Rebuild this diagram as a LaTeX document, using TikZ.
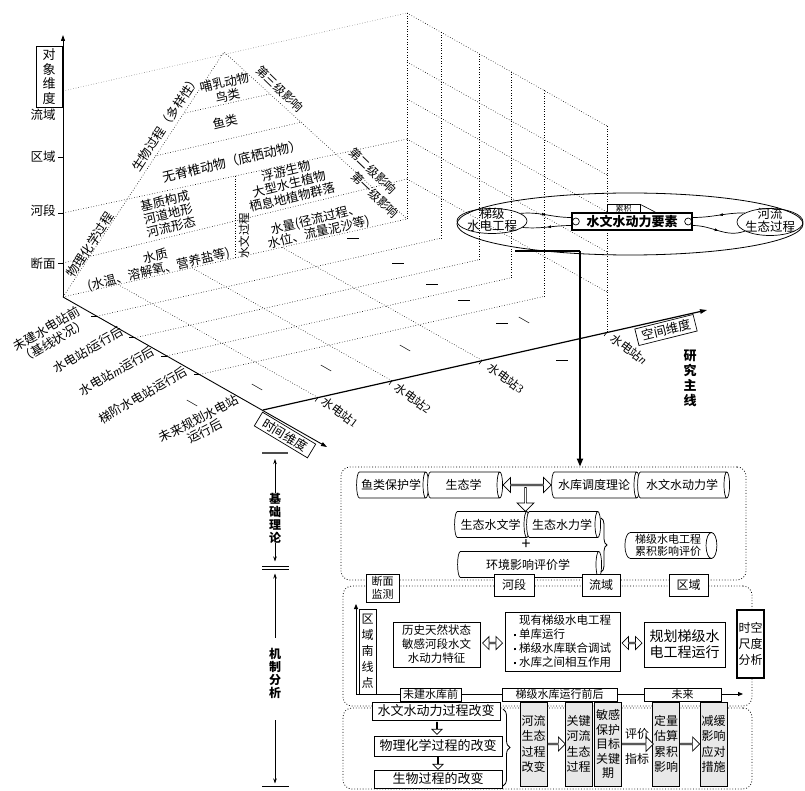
\documentclass[tikz,border=0pt]{standalone}
\usepackage{fontspec}
\setmainfont{Noto Sans CJK SC}
\newfontfamily\latin{Liberation Serif}
\usepackage{tikz}
\usetikzlibrary{arrows.meta,positioning,shapes.geometric,shapes.arrows,decorations.pathreplacing,decorations.markings,calc}
\newcommand{\fsz}[2]{\fontsize{#1}{#2}\selectfont}
\newcommand{\bul}{\raisebox{2.5pt}{\rule{2pt}{2pt}}\hspace{3pt}}

\begin{document}
\begin{tikzpicture}[x=1pt, y=-1pt,
  grid/.style={dotted, line width=0.6pt},
  axis/.style={line width=0.9pt, -{Triangle[length=6pt,width=4pt]}},
  arr/.style={line width=0.8pt, -{Stealth[length=5pt,width=3.5pt]}},
  lbl/.style={inner sep=0pt, align=center, font=\fsz{12.5}{13.5}},
  pyr/.style={inner sep=0pt, align=center, font=\fsz{12.5}{13.5}, rotate=13.5},
  tlbl/.style={inner sep=0pt, align=center, font=\fsz{12.5}{14}, rotate=30},
  slbl/.style={inner sep=0pt, font=\fsz{12}{12}, rotate=-37},
  dimbox/.style={draw, line width=0.7pt, inner sep=1pt, fill=white, font=\fsz{12.5}{13}},
  cyl/.style={cylinder, draw, line width=0.7pt, aspect=0.5, minimum width=26pt, inner sep=0pt, fill=white, font=\fsz{12}{12.5}},
  box2/.style={draw, line width=0.7pt, fill=white, inner sep=0pt, align=center, font=\fsz{11.5}{14}},
  tagbox/.style={draw, line width=0.7pt, fill=white, inner sep=0pt, minimum height=13pt, font=\fsz{11}{11}},
  graybox/.style={draw, line width=0.9pt, fill=gray!18, minimum width=27pt, minimum height=84pt, inner sep=0pt, align=center, font=\fsz{12}{15.5}},
  chbox/.style={draw, line width=0.8pt, fill=white, minimum width=128pt, inner sep=0pt, font=\fsz{13}{13}},
  hollow/.style={single arrow, draw, fill=white, line width=0.7pt, inner sep=0pt, single arrow head extend=3pt},
  hollowdbl/.style={double arrow, draw, fill=white, line width=0.7pt, inner sep=0pt, double arrow head extend=3pt},
  zone/.style={draw, dotted, line width=0.8pt, rounded corners=9pt, minimum width=409pt},
  midarr/.style={postaction={decorate}, decoration={markings, mark=at position 0.5 with {\arrow{Latex[length=4pt,width=3pt]}}}}
]
\useasboundingbox (0,0) rectangle (805,791);

% --- three-dimensional frame ---
\coordinate (O) at (63,297);
\coordinate (W) at (407,219);
\coordinate (S0) at (263,410);
\coordinate (A) at (224,52);

% floor grid
\draw[grid] (O) -- (W);
\draw[grid] (97,316.2) -- (441,238.2);
\draw[grid] (135,337.7) -- (479,259.7);
\draw[grid] (167,355.8) -- (511,277.8);
\draw[grid] (200,374.4) -- (544,296.4);
\draw[grid] (118,284.5) -- (318,397.5);
\draw[grid] (192,267.8) -- (392,380.8);
\draw[grid] (282,247.3) -- (482,360.3);

% wall at the last station
\foreach \x/\yb/\yt in {407/219/13, 441/238.2/32.2, 479/259.7/53.7, 511/277.8/71.8, 544/296.4/90.4, 607/332/126}
  \draw[grid] (\x,\yb) -- (\x,\yt);
\foreach \h in {40,80,120,157,206}
  \draw[grid] (407,219-\h) -- (607,332-\h);

% back wall and pyramid
\draw[grid, gray] (63,91) -- (407,13);
\draw[grid] (63,213) -- (407,139);
\draw[grid] (63,263) -- (407,179);
\draw[grid] (O) -- (A) -- (W);
\draw[grid] (185,113) -- (270,94);
\draw[grid] (155,156) -- (302,122);
\draw[grid] (235,176) -- (235,258);

\node[pyr] (mammal) at (226,89) {哺乳动物\\鸟类};
\node[pyr] (fish) at (225,122) {鱼类};
\node[pyr, font=\fsz{13}{13.5}] (benthos) at (232,161) {无脊椎动物（底栖动物）};
\node[pyr] (substrate) at (168,214) {基质构成\\河道地形\\河流形态};
\node[pyr] (plankton) at (289,184) {浮游生物\\大型水生植物\\栖息地植物群落};
\node[pyr] (quantity) at (317,226) {水量(径流过程、\\水位、流量泥沙等)};
\node[pyr] (quality) at (157,263) {水质\\(水温、溶解氧、营养盐等)};
\node[lbl, rotate=90, font=\fsz{11.5}{12}] (hydroproc) at (244,236) {水文过程};
\node[lbl, rotate=56.7] (bioproc) at (166,123) {生物过程（多样性）};
\node[lbl, rotate=56.7] (phyproc) at (90,245) {物理化学过程};
\node[lbl, rotate=-44, font=\fsz{12}{12}] (lv3) at (280,89) {第三级影响};
\node[lbl, rotate=-44, font=\fsz{12}{12}] (lv2) at (373,171) {第二级影响};
\node[lbl, rotate=-44, font=\fsz{12}{12}] (lv1) at (375,195) {第一级影响};

% marks of omission on the floor
\foreach \x/\y/\a in {353/238/0, 398/263/0, 432/284/0, 464/300/0, 502/323/0, 524/320/-30, 562/360/0, 405/348/-30, 326/368/-30, 257/387/-30, 192/403/-30}
  \draw[line width=0.5pt, rotate around={\a:(\x,\y)}] (\x-6,\y) -- (\x+6,\y);

% axes
\draw[axis] (O) -- (63,35);
\draw[axis] (O) -- (327,447);
\draw[line width=1.2pt, -{Triangle[length=7pt,width=4.5pt]}] (S0) -- (707,310);

\foreach \y in {157,213,263}
  \draw[line width=0.7pt] (58,\y) -- (63,\y);
\node[lbl] (basin) at (43,115) {流域};
\node[lbl] (region) at (43,157) {区域};
\node[lbl] (reach) at (43,211) {河段};
\node[lbl] (section) at (43,264) {断面};
\node[dimbox, minimum width=26pt, minimum height=61pt, align=center, font=\fsz{13}{14.5}] (objdim) at (49,76.5) {对\\象\\维\\度};

\foreach \x/\y in {97/316.2, 135/337.7, 167/355.8, 200/374.4}
  \draw[line width=0.6pt] (\x-6,\y) -- (\x,\y);
\node[tlbl] (t1) at (50,335) {未建水电站前\\（基线状况）};
\node[tlbl] (t2) at (88,350) {水电站{\latin\itshape l}运行后};
\node[tlbl] (t3) at (117,371) {水电站{\latin\itshape m}运行后};
\node[tlbl] (t4) at (143,395) {梯阶水电站运行后};
\node[tlbl, rotate=-3] (t5) at (202,425) {未来规划水电站\\运行后};
\node[dimbox, rotate=-31, minimum width=62pt, minimum height=16pt] (timedim) at (285,435) {时间维度};

\foreach \x/\y in {318/397.5, 392/380.8, 482/360.3, 607/332}
  \draw[line width=0.6pt] (\x,\y) -- ++(-3,4);
\node[slbl] (st1) at (340,412) {水电站{\latin 1}};
\node[slbl] (st2) at (413,398) {水电站{\latin 2}};
\node[slbl] (st3) at (506,378) {水电站{\latin 3}};
\node[slbl] (stn) at (629,349) {水电站{\latin\itshape n}};
\node[dimbox, rotate=14, minimum width=60pt, minimum height=17pt] (spacedim) at (666,330) {空间维度};

% --- interaction loop ---
\node[ellipse, draw, line width=0.8pt, minimum width=346pt, minimum height=62pt, inner sep=0pt] (loop) at (630,224) {};
\node[ellipse, draw, line width=0.7pt, minimum width=70pt, minimum height=25pt, inner sep=0pt] (casc) at (492,221) {};
\node[lbl, font=\fsz{12.5}{12.5}] (cascT) at (492,220) {梯级\\水电工程};
\node[ellipse, draw, line width=0.7pt, minimum width=66pt, minimum height=27pt, inner sep=0pt] (river) at (770,222) {};
\node[lbl, font=\fsz{12.5}{13}] (riverT) at (770,220) {河流\\生态过程};
\node[draw, line width=1.3pt, fill=white, minimum width=120pt, minimum height=17pt, inner sep=0pt, font=\bfseries\fsz{13}{13}] (hydro) at (632,221.5) {水文水动力要素};
\draw[line width=0.7pt] ([xshift=4.5pt]hydro.west) circle (3.5pt);
\draw[line width=0.7pt] ([xshift=-4.5pt]hydro.east) circle (3.5pt);
\node[draw, line width=0.6pt, fill=white, inner sep=0pt, minimum width=33pt, minimum height=8pt, font=\fsz{8}{8}, anchor=south] (accum) at (623.5,213) {累积};
\draw[line width=0.6pt] (accum.north east) -- (656,212.5) -- (accum.south east);

\draw[line width=0.7pt, midarr] (casc.15) to[out=5, in=180] ([yshift=4pt]hydro.west);
\draw[line width=0.7pt, midarr] ([yshift=-4pt]hydro.west) to[out=180, in=-5] (casc.-12);
\draw[line width=0.7pt, midarr] (river.160) to[out=180, in=0] ([yshift=4pt]hydro.east);
\draw[line width=0.7pt, midarr] ([yshift=-4pt]hydro.east) to[out=0, in=200] (river.200);

% --- lower panels ---
\node[zone, minimum width=405pt, minimum height=113pt] (basebox) at (543.5,523.5) {};
\node[zone, minimum height=120pt] (mechbox) at (547.5,646) {};
\node[zone, minimum height=81pt] (chainbox) at (547.5,748.5) {};

% research main line
\coordinate (barL) at (515,251);
\coordinate (barR) at (580,251);
\draw[line width=1.8pt] (barL) -- (barR);
\draw[line width=1.8pt, -{Triangle[length=8pt,width=6pt]}] (barR) -- (barR |- basebox.north);
\node[inner sep=0pt, align=center, font=\bfseries\fsz{13}{15}] (mainline) at (690,378) {研\\究\\主\\线};

% left phase column
\coordinate (barA) at (275,453);
\draw[line width=2.5pt, gray!60!black] (262,453) -- (288,453);
\node[inner sep=0pt, align=center, font=\bfseries\fsz{12}{13}] (theory) at (275,518) {基\\础\\理\\论};
\draw[arr] (theory.north) -- ([yshift=-6pt]barA);
\coordinate (barB) at (275,567.5);
\draw[line width=0.6pt] (262,566) -- (289,566) (262,569.5) -- (289,569.5);
\draw[arr] (theory.south) -- ([yshift=6pt]barB);
\node[inner sep=0pt, align=center, font=\bfseries\fsz{12}{13}] (mech) at (275,673) {机\\制\\分\\析};
\draw[arr] ([yshift=10pt]mech.north) -- ([yshift=-6pt]barB);
\coordinate (barC) at (275,786.5);
\draw[line width=1pt] (262,786.5) -- (289,786.5);
\draw[arr] ([yshift=-22pt]mech.south) -- ([yshift=3pt]barC);

% basic theory cylinders
\node[cyl, minimum height=72pt] (fishcons) at (391,485) {鱼类保护学};
\node[cyl, minimum height=75pt] (ecology) at (463.5,485) {生态学};
\node[cyl, minimum height=88pt] (dispatch) at (594,485) {水库调度理论};
\node[cyl, minimum height=92pt] (hydrodyn) at (682,485) {水文水动力学};
\node[hollow, shape border rotate=270, minimum height=24pt, minimum width=17pt] (down1) at (525.5,499) {};
\node[hollowdbl, minimum height=48pt, minimum width=15pt] (bi1) at ($(ecology.east)!0.5!(dispatch.west)$) {};
\node[cyl, minimum height=75pt] (ecohydro) at (490.5,524.5) {生态水文学};
\node[cyl, minimum height=74pt] (ecohydra) at (562,524.5) {生态水力学};
\node[cyl, minimum height=144pt] (eia) at (528,564.5) {环境影响评价学};
\node[inner sep=0pt, font=\fsz{16}{16}] (plus) at (526,545) {+};
\draw[line width=0.8pt, decorate, decoration={brace, amplitude=6pt}] (601,518) -- (601,572);
\node[cyl, minimum height=92pt, font=\fsz{11}{11.5}, align=center] (cumeval) at (668,545.5) {梯级水电工程\\累积影响评价};

% mechanism analysis
\node[draw, line width=0.7pt, fill=white, minimum width=33pt, minimum height=28pt, inner sep=0pt, align=center, font=\fsz{11}{12.5}] (hdsec) at (382.5,588) {断面\\监测};
\node[tagbox, minimum width=40pt, minimum height=22pt, font=\fsz{12}{12}] (hdreach) at (514,585) {河段};
\node[tagbox, minimum width=38pt, minimum height=22pt, font=\fsz{12}{12}] (hdbasin) at (601,585) {流域};
\node[tagbox, minimum width=39pt, minimum height=22pt, font=\fsz{12}{12}] (hdregion) at (688.5,585) {区域};

\coordinate (tlo) at (356,694);
\draw[line width=0.8pt, -{Triangle[length=5pt,width=4pt]}] (tlo) -- (356,604);
\draw[line width=0.8pt, -{Triangle[length=5pt,width=4pt]}] (tlo) -- (743,694);
\node[draw, line width=0.7pt, fill=white, minimum width=17pt, minimum height=85pt, inner sep=0pt, align=center, font=\fsz{12}{16}] (zonept) at (367.5,651.5) {区\\域\\南\\线\\点};
\node[tagbox, minimum width=61pt] (before) at (430.5,694.5) {未建水库前};
\node[tagbox, minimum width=115pt] (during) at (559.5,694.5) {梯级水库运行前后};
\node[tagbox, minimum width=77pt] (future) at (682.5,694.5) {未来};

\node[box2, minimum width=87pt, minimum height=45pt] (hist) at (436.5,644.5) {历史天然状态\\敏感河段水文\\水动力特征};
\node[box2, minimum width=115pt, minimum height=59pt, align=left] (exist) at (562.5,641.5) {\hspace{5pt}现有梯级水电工程\\\bul 单库运行\\\bul 梯级水库联合调试\\\bul 水库之间相互作用};
\node[box2, minimum width=81pt, minimum height=45pt, font=\fsz{14}{16}] (plan) at (684.5,644.5) {规划梯级水\\电工程运行};
\node[box2, line width=1.3pt, minimum width=27pt, minimum height=68pt, font=\fsz{12}{16}] (scale) at (750.5,644) {时空\\尺度\\分析};
\node[hollowdbl, minimum height=20pt, minimum width=13pt] (bi2) at ($(hist.east)!0.5!(exist.west)$) {};
\node[hollowdbl, minimum height=20pt, minimum width=13pt] (bi3) at ($(exist.east)!0.5!(plan.west)$) {};

% change chain
\node[chbox, minimum height=18pt] (chhyd) at (436,711) {水文水动力过程改变};
\node[chbox, minimum height=20pt] (chphy) at (438,746) {物理化学过程的改变};
\node[chbox, minimum height=18pt] (chbio) at (438,779) {生物过程的改变};
\node[hollow, shape border rotate=270, minimum height=12pt, minimum width=10pt] (dn1) at ($(chhyd.south)!0.5!(chphy.north)$) {};
\node[hollow, shape border rotate=270, minimum height=12pt, minimum width=10pt] (dn2) at ($(chphy.south)!0.5!(chbio.north)$) {};
\draw[line width=0.8pt, decorate, decoration={brace, amplitude=7pt}] (503,709) -- (503,786);

\node[graybox] (g1) at (533.5,744) {河流\\生态\\过程\\改变};
\node[graybox] (g2) at (578.5,744) {关键\\河流\\生态\\过程};
\node[graybox, font=\fsz{12}{14.5}] (g3) at (608,744) {敏感\\保护\\目标\\关键\\期};
\node[graybox] (g4) at (666,744) {定量\\估算\\累积\\影响};
\node[graybox] (g5) at (713.5,744) {减缓\\影响\\应对\\措施};
\node[hollow, minimum height=18pt, minimum width=14pt] (r1) at ($(g1.east)!0.5!(g2.west)$) {};
\node[hollow, minimum height=32pt, minimum width=15pt] (r2) at ($(g3.east)!0.5!(g4.west)$) {};
\node[hollow, minimum height=19pt, minimum width=14pt] (r3) at ($(g4.east)!0.5!(g5.west)$) {};
\node[inner sep=0pt, font=\fsz{12}{12}] (evalA) at (637,734) {评价};
\node[inner sep=0pt, font=\fsz{12}{12}] (evalB) at (637,759) {指标};
\end{tikzpicture}
\end{document}
